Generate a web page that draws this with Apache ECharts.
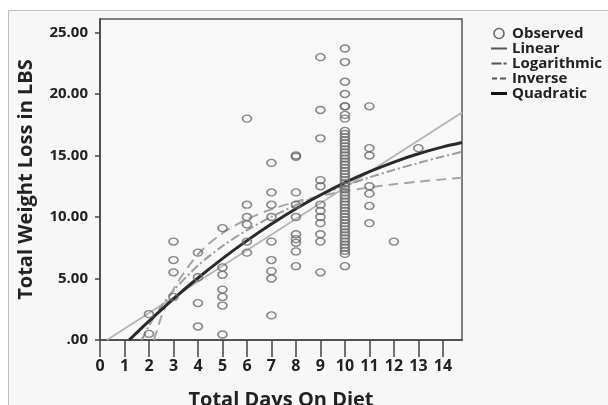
<!DOCTYPE html>
<html>
<head>
<meta charset="utf-8">
<script src="https://cdn.jsdelivr.net/npm/echarts@6/dist/echarts.min.js"></script>
<style>
html,body{margin:0;padding:0;background:#fff;}
#c{width:608px;height:405px;}
</style>
</head>
<body>
<div id="c"></div>
<script>
// ---- data ----
const xTicks = [0,1,2,3,4,5,6,7,8,9,10,11,12,13,14];
const yTicks = [0,5,10,15,20,25];
const observedDays = [2,3,4,5,6,7,8,9,10,11,12,13];
const observedLoss = [
  [2.1,0.5],
  [8.0,6.5,5.5,3.5],
  [7.1,5.1,3.0,1.1],
  [9.1,5.9,5.3,4.1,3.5,2.8,0.45],
  [18.0,11.0,10.0,9.4,8.0,7.1],
  [14.4,12.0,11.0,10.0,8.0,6.5,5.6,5.0,2.0],
  [15.0,14.9,12.0,11.0,10.0,8.6,8.2,7.9,7.2,6.0],
  [23.0,18.7,16.4,13.0,12.5,11.0,10.5,10.0,9.5,8.6,8.0,5.5],
  [23.7,22.6,21.0,20.0,19.0,19.0,18.3,18.0,
   17.0,16.75,16.5,16.25,16.0,15.75,15.5,15.25,15.0,14.75,14.5,14.25,14.0,13.75,13.5,13.25,13.0,12.75,12.5,12.25,12.0,
   11.75,11.5,11.25,11.0,10.75,10.5,10.25,10.0,9.75,9.5,9.25,9.0,8.75,8.5,8.25,8.0,7.75,7.5,7.25,7.0,6.0],
  [19.0,15.6,15.0,12.5,11.9,10.9,9.5],
  [8.0],
  [15.6]
];
const linearX = [0.28, 14.78];
const linearY = [0, 18.5];
const logX = [1.7,2,2.5,3,4,5,6,7,8,9,10,11,12,13,14,14.78];
const logY = [0,1.15,2.73,4.02,6.05,7.64,8.93,10.02,10.96,11.8,12.54,13.22,13.83,14.4,14.92,15.3];
const invX = [2.2,2.5,3,4,5,6,7,8,9,10,11,12,13,14,14.78];
const invY = [0,1.86,4.13,6.97,8.68,9.82,10.63,11.24,11.71,12.09,12.4,12.66,12.88,13.06,13.19];
const quadX = [1.19,2,3,4,5,6,7,8,9,10,11,12,13,14,14.78];
const quadY = [0,1.54,3.35,5.04,6.62,8.08,9.43,10.67,11.79,12.8,13.69,14.47,15.14,15.7,16.06];

// ---- build ----
const pairs = (xs, ys) => xs.map((x, i) => [x, ys[i]]);
const scatterData = [];
observedDays.forEach((d, i) => observedLoss[i].forEach(v => scatterData.push([d, v])));

const FONT = 'Open Sans';
const C_LIN = '#b4b4b4', C_LOG = '#9a9a9a', C_INV = '#a4a4a4', C_QUAD = '#2a2a2a';
// legend icons: invisible zero-area stroke keeps a 16x10 box, bar drawn in the middle
const ICON_SOLID = 'path://M0,0L0,10L0,0Z M0,4h16v2h-16z';
const ICON_THICK = 'path://M0,0L0,10L0,0Z M0,3.5h16v3h-16z';
const ICON_DASHDOT = 'path://M0,0L0,10L0,0Z M0,4h10v2h-10z M12,4h3v2h-3z';
const ICON_DASH = 'path://M0,0L0,10L0,0Z M0,4h5v2h-5z M8,4h6v2h-6z';

const chart = echarts.init(document.getElementById('c'), null, {renderer: 'canvas'});
chart.setOption({
  backgroundColor: '#ffffff',
  animation: false,
  graphic: [{
    type: 'rect', z: -10, silent: true,
    shape: {x: 8.5, y: 10.5, width: 620, height: 420},
    style: {fill: '#f7f7f7', stroke: '#bdbdbd', lineWidth: 1}
  }],
  grid: {
    left: 100, top: 19, right: 146, bottom: 65, outerBoundsMode: 'none', containLabel: false,
    show: true, backgroundColor: '#f8f8f8', borderColor: '#555', borderWidth: 1.5
  },
  legend: {
    orient: 'vertical', left: 486, top: 21,
    itemWidth: 16, itemHeight: 10, itemGap: 0,
    textStyle: {fontFamily: FONT, fontWeight: 'bold', fontSize: 15, lineHeight: 15, color: '#222'},
    data: [
      {name: 'Observed', icon: 'circle', itemStyle: {color: 'rgba(0,0,0,0)', borderColor: '#444', borderWidth: 1.6}},
      {name: 'Linear', icon: ICON_SOLID, itemStyle: {color: '#555', borderWidth: 0}},
      {name: 'Logarithmic', icon: ICON_DASHDOT, itemStyle: {color: '#555', borderWidth: 0}},
      {name: 'Inverse', icon: ICON_DASH, itemStyle: {color: '#555', borderWidth: 0}},
      {name: 'Quadratic', icon: ICON_THICK, itemStyle: {color: '#111', borderWidth: 0}}
    ]
  },
  xAxis: {
    type: 'value', min: 0, max: 14.78, interval: 1,
    name: 'Total Days On Diet', nameLocation: 'middle', nameGap: 50,
    nameTextStyle: {fontFamily: FONT, fontWeight: 'bold', fontSize: 20, color: '#222'},
    axisLine: {show: true, onZero: false, lineStyle: {color: '#444', width: 1.5}},
    axisTick: {show: true, customValues: xTicks, length: 17, lineStyle: {color: '#444', width: 1.5}},
    axisLabel: {customValues: xTicks, margin: 18, fontFamily: FONT, fontWeight: 'bold', fontSize: 16, color: '#222'},
    splitLine: {show: false}
  },
  yAxis: {
    type: 'value', min: 0, max: 26.1, interval: 5,
    name: 'Total Weight Loss in LBS', nameLocation: 'middle', nameGap: 64,
    nameTextStyle: {fontFamily: FONT, fontWeight: 'bold', fontSize: 20, color: '#222'},
    axisLine: {show: true, onZero: false, lineStyle: {color: '#444', width: 1.5}},
    axisTick: {show: true, customValues: yTicks, length: 5, lineStyle: {color: '#444', width: 1.5}},
    axisLabel: {customValues: yTicks, margin: 12, fontFamily: FONT, fontWeight: 'bold', fontSize: 15, color: '#222',
      formatter: v => v === 0 ? '.00' : v.toFixed(2)},
    splitLine: {show: false}
  },
  series: [
    {name: 'Observed', type: 'scatter', data: scatterData, symbol: 'circle', symbolSize: [9, 7], z: 5,
      itemStyle: {color: 'rgba(0,0,0,0)', borderColor: '#6a6a6a', borderWidth: 1.5}},
    {name: 'Linear', type: 'line', data: pairs(linearX, linearY), symbol: 'none', z: 3,
      itemStyle: {color: C_LIN}, lineStyle: {color: C_LIN, width: 1.8}},
    {name: 'Logarithmic', type: 'line', data: pairs(logX, logY), symbol: 'none', smooth: 0.3, z: 3,
      itemStyle: {color: C_LOG}, lineStyle: {color: C_LOG, width: 2, type: [9, 3, 2, 3]}},
    {name: 'Inverse', type: 'line', data: pairs(invX, invY), symbol: 'none', smooth: 0.3, z: 3,
      itemStyle: {color: C_INV}, lineStyle: {color: C_INV, width: 2, type: [10, 6]}},
    {name: 'Quadratic', type: 'line', data: pairs(quadX, quadY), symbol: 'none', smooth: 0.3, z: 4,
      itemStyle: {color: C_QUAD}, lineStyle: {color: C_QUAD, width: 3}}
  ]
});
</script>
</body>
</html>
